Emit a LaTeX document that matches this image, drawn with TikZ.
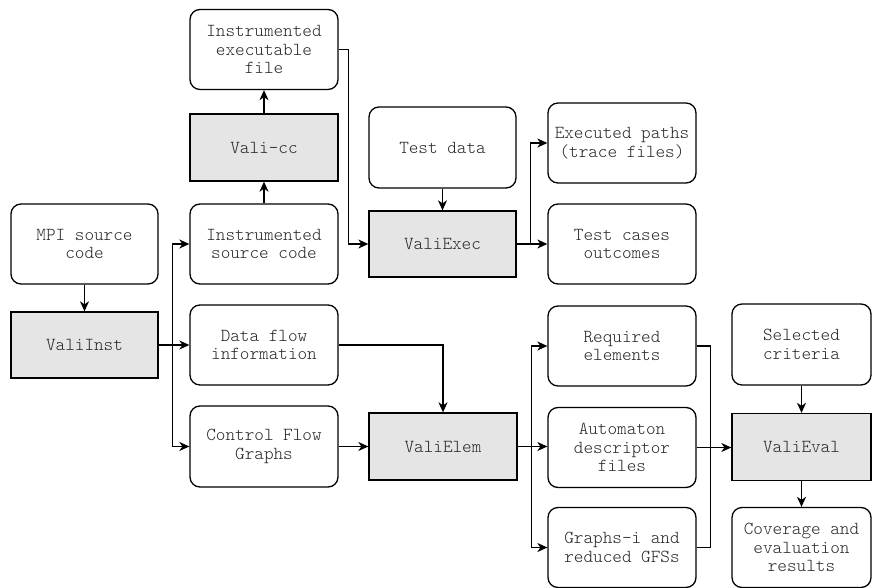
\documentclass[tikz,border=0pt]{standalone}
\usepackage{fontspec}
\setmonofont{Latin Modern Mono Light}
\usetikzlibrary{arrows.meta,calc}
\begin{document}
\begin{tikzpicture}[x=1pt,y=-1pt,
  every node/.style={font=\ttfamily\fontsize{18.3}{18.5}\selectfont, align=center, inner sep=0pt, line width=1.3pt, text=black!85},
  rbox/.style={draw, rounded corners=10pt, fill=white, minimum width=148pt, minimum height=80pt},
  gbox/.style={draw, fill=black!10, minimum width=148pt, minimum height=67pt},
  conn/.style={line width=1.3pt, -{Stealth[length=10pt,width=9pt,inset=3pt]}},
  plain/.style={line width=1.3pt}]
\useasboundingbox (0,0) rectangle (872,588);
% nodes
\node[rbox] (ie) at (264,49.5) {Instrumented\\executable\\file};
\node[gbox] (vcc) at (264,147.5) {Vali-cc};
\node[rbox] (isc) at (264,244) {Instrumented\\source code};
\node[rbox, minimum width=147pt, minimum height=81pt] (td) at (442.5,147.5) {Test data};
\node[gbox, minimum width=147pt, minimum height=66pt] (vexec) at (442.5,244) {ValiExec};
\node[rbox] (ep) at (622,143) {Executed paths\\(trace files)};
\node[rbox] (tco) at (622,244) {Test cases\\outcomes};
\node[rbox, minimum width=147pt] (mpi) at (84.5,244) {MPI source\\code};
\node[gbox, minimum width=147pt, minimum height=66pt] (vinst) at (84.5,345) {ValiInst};
\node[rbox] (dfi) at (264,345) {Data flow\\information};
\node[rbox, minimum height=81pt] (cfg) at (264,446.5) {Control Flow\\Graphs};
\node[gbox] (velem) at (443,446.5) {ValiElem};
\node[rbox] (re) at (622,346) {Required\\elements};
\node[rbox] (adf) at (622,447.5) {Automaton\\descriptor\\files};
\node[rbox] (gi) at (622,547.5) {Graphs-i and\\reduced GFSs};
\node[rbox, minimum width=139pt, minimum height=81pt] (sc) at (801.5,344.5) {Selected\\criteria};
\node[gbox, minimum width=139pt] (veval) at (801.5,447) {ValiEval};
\node[rbox, minimum width=139pt] (cov) at (801.5,547.5) {Coverage and\\evaluation\\results};
% connectors
\draw[conn] (mpi) -- (vinst);
\draw[conn] (vinst.east) -- (dfi.west);
\coordinate (j1) at ($(vinst.east)+(14,0)$);
\draw[conn] (j1) |- (isc.west);
\draw[conn] (j1) |- (cfg.west);
\draw[conn] (isc) -- (vcc);
\draw[conn] (vcc) -- (ie);
\draw[conn] (ie.east) -- ++(10,0) |- (vexec.west);
\draw[conn] (td) -- (vexec);
\draw[conn] (vexec.east) -- (tco.west);
\coordinate (j2) at ($(vexec.east)+(14,0)$);
\draw[conn] (j2) |- (ep.west);
\draw[conn] (dfi.east) -| (velem.north);
\draw[conn] (cfg) -- (velem);
\draw[conn] (velem.east) -- (velem.east -| adf.west);
\coordinate (j3) at ($(velem.east)+(14,0)$);
\draw[conn] (j3) |- (re.west);
\draw[conn] (j3) |- (gi.west);
\draw[conn] (adf.east) -- (adf.east -| veval.west);
\draw[plain] (re.east) -- ++(14,0) coordinate (k1);
\draw[plain] (gi.east) -- ++(14,0) coordinate (k2);
\draw[plain] (k1) -- (k2);
\draw[conn] (sc) -- (veval);
\draw[conn] (veval) -- (cov);
\end{tikzpicture}
\end{document}
